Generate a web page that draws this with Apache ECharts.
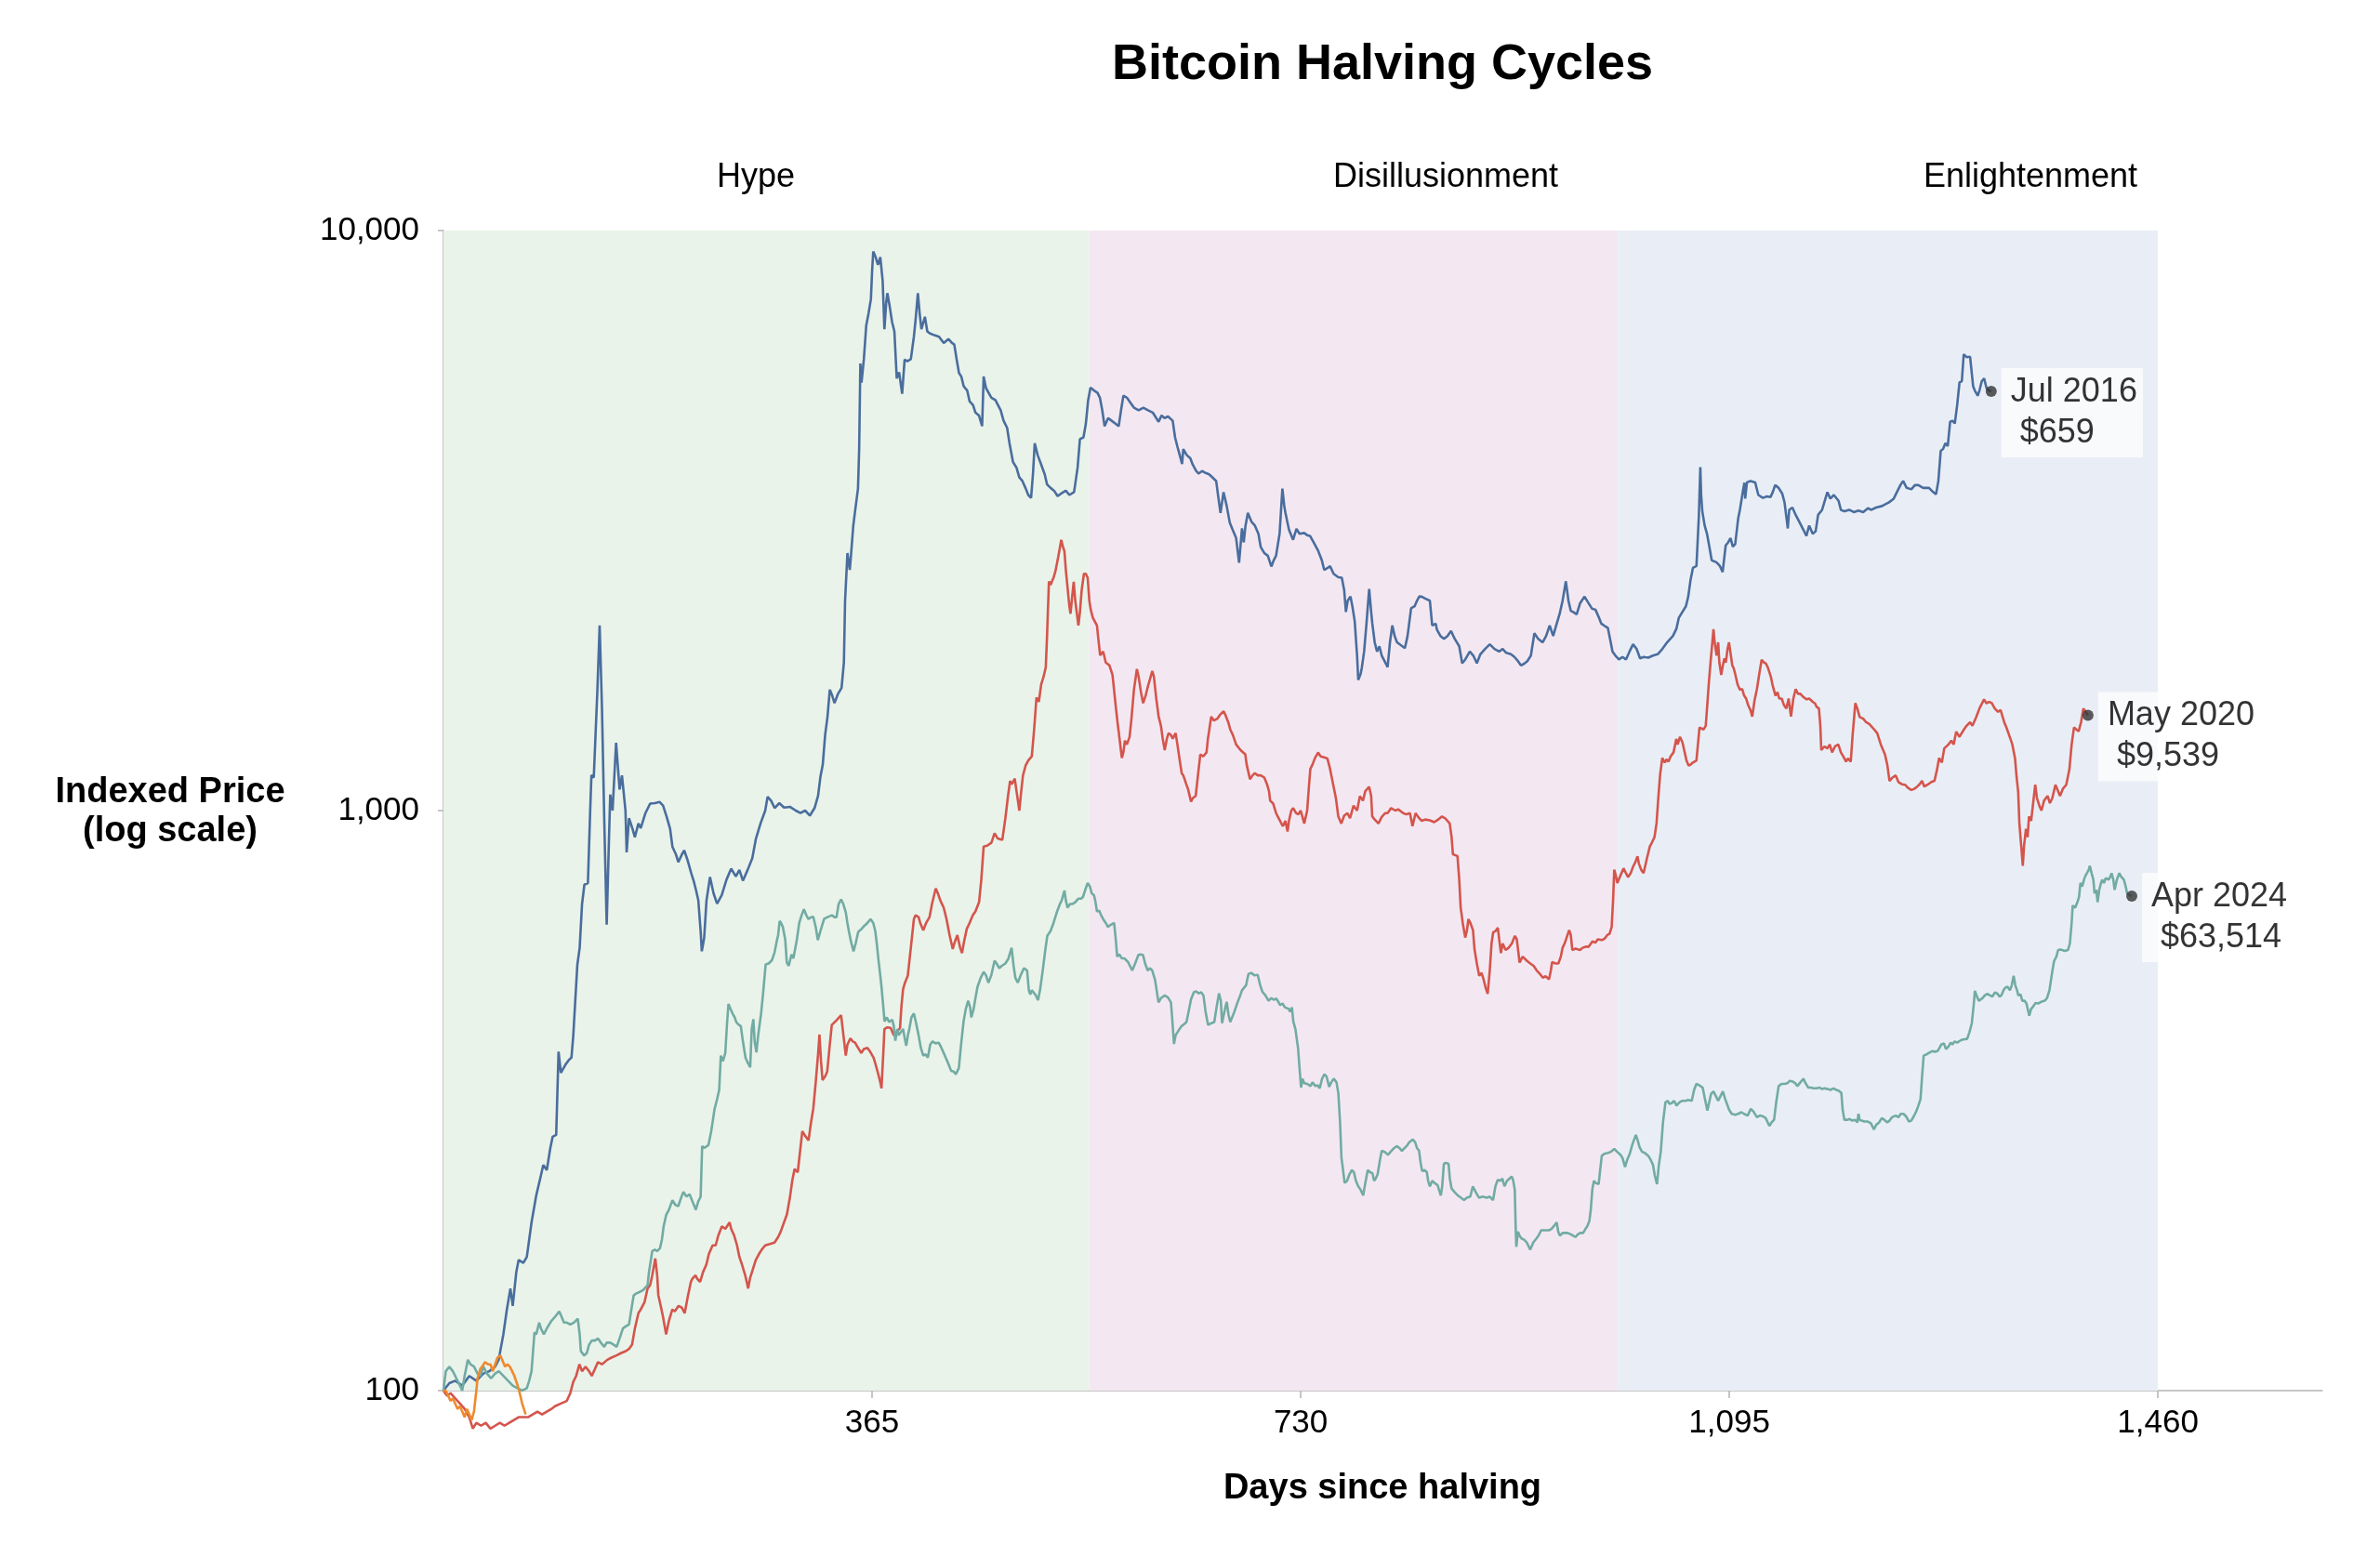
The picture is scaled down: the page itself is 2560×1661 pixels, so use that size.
<!DOCTYPE html>
<html>
<head>
<meta charset="utf-8">
<script src="https://cdn.jsdelivr.net/npm/echarts@6.0.0/dist/echarts.min.js"></script>
<style>
html,body{margin:0;padding:0;background:#ffffff;}
#chart{width:2560px;height:1661px;}
</style>
</head>
<body>
<div id="chart"></div>
<script>
// ---------------- DATA (day since halving, indexed price = 100 at halving) ----------------
const cycle2012 = [[0,100],[5,103],[10,104],[16,102],[22,106],[28,104],[34,107],[39,108],[44,110],[47,113],[51,125],[54,138],[57,150],[59,140],[62,160],[64,168],[68,166],[71,170],[75,195],[79,217],[83,235],[85,245],[88,240],[91,262],[93,274],[96,276],[98,384],[100,353],[104,365],[107,372],[109,375],[110.5,408],[113,500],[114,542],[116,580],[118,690],[120,745],[123,750],[125,1007],[126,1151],[128,1140],[131,1600],[133,2085],[135,1500],[137,950],[139,636],[141,900],[142,1066],[144,1000],[147,1309],[150,1087],[152,1150],[155,1000],[156,847],[158,970],[161,930],[163,900],[166,950],[168,933],[172,990],[176,1028],[180,1030],[184,1035],[187,1020],[190,977],[193,930],[195,866],[198,840],[200,815],[203,840],[205,854],[208,820],[211,780],[213,757],[215,730],[217,701],[219,620],[220,572],[222,603],[224,700],[227,768],[230,720],[233,691],[237,715],[241,760],[245,794],[249,770],[252,790],[255,757],[259,790],[263,828],[266,893],[270,950],[274,1000],[276,1056],[279,1040],[282,1010],[286,1030],[290,1012],[295,1015],[300,1000],[304,990],[308,1000],[312,980],[316,1010],[319,1060],[321,1143],[323,1200],[325,1349],[327,1450],[329,1616],[331,1580],[333,1532],[336,1590],[339,1627],[341,1800],[342,2300],[344,2779],[346,2600],[347,2750],[349,3100],[350.5,3280],[353,3590],[354,4200],[355,5900],[356,5470],[358,6000],[360,6855],[362,7200],[364,7620],[365,8500],[366,9200],[368,9000],[370,8730],[372,9000],[374,8200],[375.5,6760],[377,7500],[378,7800],[380,7400],[382,6960],[384,6700],[386,5560],[388,5700],[390.6,5230],[392.7,5990],[395,5950],[398,6000],[400.6,6560],[402,7000],[404,7800],[405.5,7200],[407,6760],[410,7100],[412,6700],[414,6650],[418,6600],[422,6560],[426,6400],[430,6500],[433,6400],[435,6360],[437,6000],[439,5680],[441,5600],[443,5390],[446,5300],[448,5080],[451,5000],[453,4855],[456,4800],[458.7,4600],[460,5600],[462,5350],[466.6,5150],[470,5100],[474.5,4900],[477,4700],[480,4570],[482,4300],[485,3990],[488,3900],[490.3,3755],[493,3700],[495.6,3600],[498,3500],[500.4,3460],[502,3800],[503.5,4300],[506,4100],[509,3950],[512,3800],[514,3650],[517,3600],[520,3560],[523,3485],[526,3520],[530,3560],[533,3500],[537,3540],[540,3900],[542,4370],[545,4400],[547,4640],[549,5100],[551,5360],[554,5300],[557,5250],[559,5150],[561,4900],[563,4600],[566,4750],[569,4700],[572,4650],[575,4600],[577,4900],[579,5190],[582,5150],[585,5050],[588,4950],[592,4900],[596,4950],[600,4900],[604,4855],[607,4750],[609,4680],[611.5,4800],[614,4750],[617,4780],[621,4700],[623,4400],[625,4240],[627,4100],[629,3960],[630,4200],[633,4100],[636,4050],[638,3950],[641,3850],[643,3810],[646,3850],[649,3820],[652,3800],[655,3750],[658,3700],[660,3450],[661.7,3260],[663,3400],[664.3,3540],[667,3350],[669.6,3135],[672,3050],[675,2950],[677.5,2675],[680,3065],[681.5,2900],[683,3100],[685,3260],[688,3150],[691,3100],[694,3000],[696,2845],[699,2780],[702,2750],[705,2635],[707,2700],[709,2750],[712,3000],[714.4,3590],[716,3350],[717,3260],[720,3050],[723.5,2930],[726.4,3060],[729,3000],[733,3010],[736,2980],[738,2975],[741,2900],[745,2800],[748,2700],[750,2600],[753,2620],[755,2640],[758,2560],[762,2525],[765,2520],[767,2400],[768.5,2200],[770,2300],[772.4,2338],[774,2250],[776,2120],[778,1850],[779,1680],[781,1720],[782,1760],[784,1880],[786,2100],[788.3,2410],[790,2200],[791,2100],[793,1950],[795,1880],[797,1920],[799,1850],[802,1800],[804,1768],[806,1950],[808,2085],[810,2000],[812,1950],[815,1930],[818.7,1906],[821,2000],[824,2232],[827,2250],[829,2300],[831,2340],[833,2338],[836,2320],[840,2300],[842,2085],[845,2100],[846,2050],[849,2000],[852,1977],[855,2000],[858,2040],[861,1980],[865,1920],[867.5,1795],[870,1820],[874,1880],[877,1850],[880,1795],[883,1860],[887,1900],[891,1935],[895,1900],[899,1880],[902,1900],[905,1870],[909,1860],[912,1840],[915,1810],[917.5,1780],[920,1790],[923,1810],[926,1850],[929,2022],[932,1980],[936,1950],[939,2000],[942,2085],[945,2000],[948,2100],[950.5,2183],[953,2300],[955.8,2485],[958,2300],[960,2210],[962,2200],[965,2180],[968,2280],[971.7,2338],[975,2280],[978,2230],[981,2220],[984,2150],[986,2100],[989,2080],[991.5,2066],[994,1950],[995.5,1880],[998,1850],[1001,1822],[1004,1840],[1007,1822],[1010,1880],[1013,1935],[1016,1900],[1019,1830],[1022,1840],[1026,1835],[1030,1850],[1034,1860],[1038,1900],[1042,1950],[1045,1980],[1047,2000],[1050,2060],[1052,2150],[1055,2200],[1058,2250],[1060,2338],[1062,2500],[1064,2620],[1067,2640],[1069,3200],[1070.3,3910],[1071,3500],[1072,3280],[1074,3100],[1076,3000],[1078,2850],[1080,2700],[1084,2680],[1087,2640],[1089.3,2577],[1091.9,2865],[1094,2900],[1096,2950],[1098,2850],[1100,2880],[1102.5,3185],[1104,3300],[1106.4,3540],[1107.8,3675],[1108.5,3450],[1110,3680],[1113,3700],[1117,3680],[1119.7,3500],[1121,3480],[1123.6,3460],[1127,3480],[1130,3470],[1132,3540],[1134,3640],[1137,3600],[1140,3520],[1142,3400],[1144.8,3065],[1146,3300],[1148.7,3330],[1151,3250],[1155,3135],[1158,3050],[1160.6,2975],[1163,3100],[1166,3000],[1168.5,3030],[1170.6,3234],[1174,3300],[1178.5,3540],[1181,3450],[1184,3500],[1188,3420],[1190,3300],[1193,3280],[1197,3300],[1201,3270],[1205,3290],[1209,3270],[1213,3320],[1216,3300],[1220,3330],[1225,3350],[1231,3400],[1235,3450],[1238,3550],[1241,3650],[1243,3700],[1246,3600],[1250,3580],[1253,3640],[1256,3640],[1260,3600],[1265,3600],[1268,3550],[1271,3510],[1273,3700],[1275,4170],[1277,4200],[1279,4300],[1281,4250],[1283,4680],[1285,4700],[1287,4650],[1289,5000],[1291,5470],[1293,5500],[1294.6,6120],[1297,6050],[1300,6060],[1302.6,5390],[1304,5300],[1306.5,5190],[1308,5300],[1310,5500],[1312,5560],[1314,5350],[1316,5300],[1318,5280]];

const cycle2016 = [[0,100],[3,98],[6,99],[10,97],[14,95],[18,93],[22,90],[25,86],[28,88],[32,87],[36,88],[40,86],[44,87],[48,88],[52,87],[56,88],[60,89],[64,90],[68,90],[72,90],[76,91],[80,92],[84,91],[88,92],[92,93],[95,94],[100,95],[105,96],[108,99],[110.5,103.5],[113,106],[115.8,111],[118,108],[121,110],[124,108],[126.3,106],[129,109],[131.6,112],[135,111],[139.5,113],[143,114],[147.4,115],[151,116],[155.3,117],[158,118],[160.6,120],[163,128],[166,136],[168,138],[171.2,142],[173.8,150],[176,152],[177.8,158],[180.4,169],[182,158],[183,146],[185,140],[187,134],[189.6,125],[192,132],[194.9,138],[197,137],[200.2,140],[203,139],[205.4,136],[208,145],[210.7,154],[212,156],[214.7,158],[216,156],[218.6,154],[221,160],[223.9,165],[226,172],[229.2,178],[231.8,178],[234,185],[237.1,192],[240,190],[243.7,195],[245,190],[247.6,185],[250,178],[252,170],[254.2,165],[257,158],[259.5,150],[261,156],[263.5,162],[266,168],[268.7,172],[271,175],[274,178],[278,179],[281.9,180],[285,184],[287.2,188],[290,195],[292.4,201],[295,215],[297,230],[299,241],[301.7,238],[304,262],[305.6,280],[308,275],[310.9,270],[313,290],[314.9,306],[317,340],[319,380],[320.2,411],[321.5,370],[322.8,343],[325,348],[326.8,355],[329,395],[330.7,427],[332,430],[334.7,435],[337,440],[338.6,444],[340,420],[342.6,378],[344,395],[346.5,405],[348.5,400],[350.5,398],[353,390],[355.8,382],[358,388],[361,390],[363,385],[366.3,375],[368,365],[370.3,351],[372,340],[373,332],[374.5,380],[375.5,420],[378,423],[380.8,422],[383.5,410],[386,415],[388.8,422],[390,460],[391.4,492],[393,505],[395.4,519],[398,580],[400.6,650],[402,660],[404.6,655],[406,640],[408.6,622],[411,640],[413.9,655],[416,690],[419.2,734],[421,720],[423.1,700],[426,680],[428.4,650],[431,610],[433.7,577],[435,590],[437.6,610],[440,580],[441.6,568],[443,590],[445.6,625],[448,640],[450.8,660],[453,670],[456.1,695],[458,760],[460,867],[463,870],[466.6,880],[469.3,914],[472,895],[475.9,890],[478.5,970],[480.5,1050],[482.5,1125],[484,1110],[486.5,1135],[488,1080],[490.4,1000],[492,1080],[493.5,1150],[495.7,1195],[498,1220],[501,1240],[503,1380],[505,1567],[507,1540],[509,1650],[511,1700],[512.9,1766],[514,2000],[515.6,2484],[517,2450],[519.5,2520],[521,2580],[523.5,2735],[526.1,2930],[527.5,2850],[528.8,2800],[530,2600],[531.4,2430],[533,2250],[534,2185],[535.5,2350],[536.7,2480],[538,2300],[540.7,2085],[542,2200],[543.5,2400],[545.4,2560],[547,2560],[548.6,2520],[550,2300],[551.2,2220],[553,2150],[556.5,2085],[558,1950],[559.2,1852],[561.8,1880],[564,1800],[567.1,1780],[569.7,1714],[571,1620],[572.4,1520],[574,1420],[575,1368],[576.5,1290],[577.7,1232],[579,1260],[580.3,1320],[582,1300],[584.3,1340],[586,1450],[588,1616],[590.5,1754],[592,1700],[594,1600],[595.8,1532],[598,1580],[600,1640],[603.6,1740],[605,1700],[607,1560],[609,1452],[611,1400],[612.5,1330],[614.2,1271],[616,1330],[617.5,1360],[619.5,1350],[621,1330],[623.5,1360],[625,1300],[627,1220],[628.7,1159],[630,1150],[632.7,1108],[634,1090],[636.6,1036],[638,1050],[640.6,1060],[642.5,1150],[644.5,1250],[647,1240],[649.8,1260],[651,1330],[653.8,1452],[656,1430],[659,1440],[661,1460],[664.3,1483],[666,1460],[668.3,1420],[670,1380],[672.2,1350],[675,1300],[678.8,1271],[682.8,1250],[684,1200],[686.8,1133],[689,1150],[691,1160],[693.4,1150],[696,1150],[699,1140],[701.3,1110],[703,1080],[704,1040],[706.6,1028],[709,990],[711.8,965],[714.8,940],[717,960],[718.8,920],[720,960],[722,1000],[723.6,1010],[726,990],[728,985],[730,1000],[733,950],[735.5,1000],[737,1100],[738.2,1180],[740,1200],[742,1230],[744.8,1259],[747,1240],[750,1235],[752.7,1230],[755,1180],[758,1100],[760,1050],[762,977],[764.6,950],[767,980],[769.8,990],[772,970],[775,1020],[778,1000],[780.4,1059],[783,1040],[785,1080],[788.3,1099],[790,1060],[790.9,977],[793,965],[796.2,950],[799,975],[802,990],[804,990],[807,1010],[810.6,1000],[813,1005],[817.3,990],[820,985],[823,990],[825.2,940],[827.8,990],[830,975],[833.1,960],[836,965],[840,962],[843.7,955],[847,965],[850.3,977],[853,970],[856.9,950],[858.5,900],[859.6,841],[861,838],[863.5,835],[865,760],[866.2,681],[868,640],[870.1,604],[871.5,620],[872.8,650],[874.5,640],[876.7,622],[878,577],[880,545],[882,519],[884,525],[885.9,510],[887.5,495],[889.2,483],[891,530],[892.5,590],[893.9,617],[896,620],[897.9,628],[899,600],[900.5,568],[902,590],[904.5,575],[907,580],[909.8,590],[912.4,608],[914,600],[916.4,547],[919,560],[921,555],[923,550],[925.5,545],[928.3,540],[931,530],[934,522],[936.2,515],[938.5,518],[941.5,512],[943,530],[944.1,548],[947,545],[949.4,545],[951.5,560],[953,580],[954.7,590],[956,600],[958.6,622],[960,610],[961.3,575],[964,578],[967.9,575],[970,580],[973.2,583],[975,582],[978.4,595],[981,592],[983,600],[986.4,598],[989,602],[991,610],[993,613],[994.8,630],[996,700],[997,791],[998.5,770],[999.6,750],[1002,770],[1004.9,795],[1007,780],[1008.8,768],[1011,780],[1013,800],[1015,815],[1016.8,834],[1018,810],[1020,790],[1022,780],[1023.4,785],[1025,830],[1027.3,867],[1029,880],[1031.3,900],[1033,950],[1034.5,1050],[1036,1150],[1037.9,1232],[1040,1210],[1041.5,1225],[1043.2,1215],[1045,1240],[1047.5,1260],[1049.8,1329],[1051,1300],[1053,1340],[1055.1,1310],[1057,1260],[1058.5,1220],[1060.4,1195],[1062,1200],[1064,1210],[1067,1220],[1069.6,1391],[1071,1400],[1073,1380],[1074.9,1400],[1076,1500],[1077.6,1665],[1079,1800],[1080.5,1950],[1081.5,2055],[1082.5,1950],[1084.2,1850],[1085.5,1950],[1086.5,1800],[1088.1,1714],[1089.5,1780],[1090.8,1830],[1092,1800],[1093.5,1900],[1094.7,1950],[1096,1870],[1097.5,1780],[1098.7,1760],[1100,1720],[1102,1650],[1104,1616],[1106,1620],[1107.5,1580],[1109.3,1560],[1111,1520],[1113,1490],[1114.5,1452],[1116.5,1550],[1118.5,1620],[1120.5,1720],[1122.5,1820],[1124.5,1800],[1126.4,1790],[1128,1760],[1130.4,1700],[1132,1640],[1134.3,1578],[1136,1600],[1137.5,1560],[1139.6,1560],[1141.5,1520],[1143.6,1500],[1145.5,1560],[1147.5,1452],[1149.5,1560],[1151.5,1620],[1153.5,1590],[1155.5,1590],[1158,1570],[1160.8,1555],[1163,1560],[1166,1540],[1168,1530],[1169.3,1510],[1171.3,1500],[1172.5,1400],[1173.3,1271],[1176,1290],[1178.5,1280],[1180.5,1300],[1182.5,1260],[1185,1290],[1187.8,1300],[1190,1260],[1192,1240],[1194.4,1214],[1196,1230],[1198.4,1214],[1200,1350],[1202.3,1532],[1204,1500],[1206,1450],[1209,1440],[1211.5,1420],[1214.2,1410],[1217,1390],[1220.9,1360],[1224,1300],[1227.5,1250],[1229.5,1200],[1231.4,1125],[1234,1140],[1236.7,1150],[1239,1120],[1242,1110],[1244.6,1108],[1247,1095],[1250,1085],[1252.5,1090],[1255,1100],[1257,1110],[1259.1,1125],[1261,1100],[1264.4,1110],[1267,1120],[1269.7,1125],[1272,1180],[1273.6,1232],[1276,1210],[1278,1280],[1281.6,1300],[1284,1320],[1286,1300],[1288.2,1368],[1291,1340],[1294.8,1380],[1297,1400],[1300,1420],[1302,1400],[1305.3,1450],[1308,1500],[1311.9,1555],[1314,1530],[1316,1540],[1318.5,1532],[1321,1500],[1323.8,1480],[1326,1490],[1329.1,1420],[1331,1390],[1334.4,1329],[1336,1300],[1338.3,1230],[1339.5,1150],[1341,1076],[1342,950],[1343.6,867],[1344.9,803],[1346,870],[1347.6,930],[1349,900],[1350.2,977],[1352,960],[1355.5,1108],[1357,1050],[1359,1020],[1360.8,1000],[1363,1040],[1366,1060],[1368,1030],[1370,1050],[1372.7,1108],[1375,1080],[1376.6,1060],[1379,1090],[1381.9,1108],[1384.6,1178],[1386.5,1300],[1388.5,1391],[1390.5,1380],[1392.5,1370],[1394.5,1420],[1396.5,1500],[1398.5,1480],[1400.4,1460]];

const cycle2020 = [[0,100],[1,104],[2,108],[5,110],[8,108],[10,106],[13,103],[16,100],[18,106],[20.8,113],[23,111],[26,110],[29,107],[31.4,106],[34,110],[37,107],[40.6,105],[44,107],[47.2,108],[51,106],[55,104],[59,102],[63,101],[67,100],[71,101],[73,104],[75,108],[77.5,126],[79,125],[81.5,131],[83,128],[85.5,125],[88,128],[92,132],[95,134],[98.6,137],[100,135],[102.6,131],[105,131],[108,130],[111,131],[114.4,133],[116,125],[117,117],[119.7,115],[122,116],[124,120],[126.3,122],[129,122],[131.6,123],[134,121],[136.9,119],[139,121],[142,121],[145,120],[147.5,119],[150,123],[152.8,128],[155,129],[158,130],[160,138],[162,146],[164,147],[167.2,148],[170,149],[173.8,152],[175,160],[177.8,174],[180,175],[182,174],[184.4,176],[186,182],[187.5,192],[189.7,201],[192,205],[195,213],[197.5,209],[200,208],[202,214],[204.3,220],[207,216],[209.6,218],[212,212],[214.9,205],[217,212],[219,216],[220.3,264],[222,262],[225.6,265],[228,280],[230.9,306],[233,318],[234.8,330],[236.2,378],[238,370],[240,382],[241.5,430],[242.7,464],[244.5,455],[246.6,445],[248,440],[249.3,432],[251,428],[253.2,425],[255,400],[257.2,375],[259,368],[261.2,361],[262.5,420],[263.9,437],[265,400],[266.5,383],[268,410],[270.5,447],[272,480],[274.4,543],[277,545],[279.7,552],[282,570],[283.7,594],[285,610],[286.3,645],[287.5,640],[289,630],[291,600],[292.4,547],[294,540],[296.4,565],[298,556],[299,552],[301,600],[303,641],[305,660],[306.9,676],[309,660],[310.9,650],[313,655],[314.9,656],[317,630],[318.8,598],[321,620],[324.1,650],[327,655],[330.7,660],[333,655],[334.7,655],[336.5,690],[338.6,703],[340.5,690],[342.6,668],[344,640],[345.2,620],[347,595],[349.2,572],[351,590],[353.2,618],[356,625],[358.4,633],[361,640],[363.7,650],[366,640],[367.7,620],[369,590],[370.3,556],[371.5,530],[373,497],[374.5,460],[375.6,433],[377.5,440],[379.5,432],[382.2,436],[383.5,425],[384.8,401],[386.5,420],[387.5,410],[389.5,415],[391.4,420],[392.8,405],[394.1,393],[395.5,410],[396.7,420],[398.5,440],[400.6,447],[402.5,430],[404.6,410],[406.5,390],[408.6,378],[410.5,380],[412.5,375],[414.5,395],[416.5,400],[419,397],[421.7,398],[424,390],[427,378],[429.5,368],[432.3,356],[434.5,355],[436.3,351],[438.9,360],[440.5,390],[442.9,433],[444.8,455],[446.8,470],[448.5,458],[449.5,440],[451.5,455],[453,475],[454.8,497],[457.5,515],[460,527],[462,520],[464,505],[466.5,520],[469.3,551],[471,545],[473.3,535],[475.5,540],[478.5,545],[481,555],[483.8,580],[485.5,540],[487,515],[489.1,505],[491.5,520],[494.3,535],[495.5,534],[497,530],[498.5,490],[499.7,482],[501,490],[502.3,490],[504.5,480],[506.3,471],[508,490],[510.3,530],[512.5,575],[514.2,608],[517,620],[519.5,640],[522,665],[524.8,689],[526.5,700],[528.8,728],[530,700],[531.4,680],[533.5,690],[535.4,690],[538,695],[540.7,705],[543,705],[544.6,710],[546.5,730],[548.6,750],[550.5,740],[552,720],[553.9,715],[555,700],[556.5,670],[558.5,672],[560,660],[561.8,650],[564,640],[565.8,630],[568,635],[571.1,640],[572.5,600],[573.7,560],[575.5,565],[577.7,556],[580,556],[583,548],[586.5,530],[589,545],[591.8,564],[593.5,565],[595.7,564],[597.5,545],[599.7,530],[601.5,535],[603.6,530],[606,510],[608.9,467],[611,475],[614.2,480],[617,476],[619.5,467],[620.5,440],[622.1,396],[623.5,410],[626.1,418],[628.5,425],[630.5,428],[632.7,432],[634.5,450],[636.6,473],[639,486],[641,488],[643.2,484],[645.3,486],[647.2,480],[649,450],[651.1,427],[652.5,425],[654,430],[656.4,432],[658.5,460],[660.4,484],[662,470],[663,430],[664.3,430],[665.5,455],[667,468],[668.5,445],[670,432],[671,430],[673.5,450],[676.2,467],[678.5,480],[680,490],[681.5,488],[683.5,500],[685.5,523],[688,525],[690.5,520],[693.4,521],[695.5,500],[697.4,487],[700,480],[702.6,470],[705,475],[707,472],[709.2,474],[711,468],[712.5,462],[714.5,465],[716.5,458],[719.8,455],[721,450],[722.5,458],[723.7,433],[725.5,420],[727.7,390],[729,360],[730.3,333],[731.5,345],[733,339],[735.5,338],[738.3,335],[740,340],[742.5,335],[744.5,336],[746.2,332],[748.2,345],[750.2,351],[752,348],[754.2,334],[756,340],[758.1,345],[760.5,340],[762.1,325],[763.5,290],[764.7,252],[765.5,245],[767.4,228],[769.5,230],[771.5,236],[773.5,240],[775.3,238],[777,230],[779,225],[781,222],[783.2,217],[785,228],[787.1,240],[789,238],[791.1,237],[792.5,230],[793.8,232],[795.5,236],[797.5,250],[799,259],[801.5,258],[804.3,255],[806.5,258],[809.6,262],[812,264],[814,262],[816.2,259],[818.5,262],[820.2,264],[822.5,268],[825.5,271],[827.5,268],[829,262],[830.8,259],[832,248],[833.4,239],[835.5,240],[837.4,238],[838.5,230],[840,225],[842,230],[844,228],[846.6,226],[849.3,217],[850.5,225],[851.9,246],[853.5,247],[855.9,246],[857,232],[858.5,223],[861,220],[863.8,217],[866.5,215],[869.1,213],[871.5,215],[874.4,216],[876.6,225],[879,220],[881.9,215],[885,216],[888.5,215],[891,216],[893.8,213],[895.8,225],[897.8,231],[900,230],[901.7,232],[903.5,225],[905.7,230],[907.7,232],[909.7,234],[911,230],[912.3,222],[913.1,190],[913.6,177],[915,188],[916.3,185],[918,183],[920.2,182],[922.5,180],[925.5,175],[928,180],[930.8,183],[932.5,185],[934.8,189],[937,189],[939,189],[941.4,189],[943.5,190],[945.5,192],[948,195],[949.3,188],[950.7,185],[953,187],[955.5,187],[957.3,187],[960,186],[962,185],[963.9,184],[966,186],[968,187],[970.5,187],[972.5,190],[974,192],[975.8,196],[977,205],[978.4,223],[979.7,230],[981.1,228],[983.7,227],[985,240],[986.4,254],[988.5,256],[991.7,257],[994,258],[997,261],[999.5,258],[1002.2,255],[1004,252],[1006.2,243],[1008,250],[1010.2,256],[1012.5,266],[1015.4,276],[1017,270],[1018.5,263],[1020.7,258],[1023,257],[1026,254],[1028,250],[1030,245],[1031.5,235],[1033.4,227],[1035,245],[1036.6,258],[1038.5,290],[1040.6,314],[1042.5,316],[1044,312],[1045.9,313],[1048,316],[1050,310],[1052.5,314],[1055,316],[1057.8,316],[1060,317],[1061.5,318],[1063,316],[1065,330],[1067,338],[1069.5,336],[1072.3,333],[1074,320],[1076.3,304],[1078,315],[1079.5,325],[1081.5,328],[1083.5,322],[1085.5,316],[1087.5,322],[1089.5,328],[1091.5,318],[1094.8,305],[1097,300],[1100,299],[1102.5,300],[1105.3,302],[1107.5,300],[1110.6,298],[1113.3,306],[1115.5,303],[1118.5,296],[1121,298],[1123.8,297],[1126,295],[1129.1,286],[1131,290],[1133.1,293],[1135,315],[1137,335],[1139.5,338],[1142.3,338],[1144.5,339],[1146.5,342],[1149,341],[1151,339],[1153,335],[1155.5,340],[1158.2,345],[1159.5,340],[1162.2,333],[1164.5,333],[1166.5,332],[1169,332],[1172,333],[1174,331],[1176,332],[1179,331],[1181,330],[1183.8,332],[1186,330],[1188,329],[1190.4,326],[1191.5,305],[1193,293],[1195.5,293],[1197.5,294],[1199.7,292],[1202,293],[1204,290],[1205,300],[1206,293],[1207.6,292],[1210,291],[1212.9,291],[1215.5,289],[1218.2,282],[1220,287],[1222.5,290],[1224.8,295],[1227,293],[1229.5,290],[1231.4,292],[1233.5,296],[1236.7,298],[1239,296],[1241,300],[1243.3,300],[1245.5,297],[1248,291],[1249.9,292],[1252,297],[1253.9,302],[1256,310],[1257.8,318],[1259,345],[1260.5,378],[1263,380],[1265.8,383],[1268,385],[1270,384],[1272.4,385],[1274,390],[1275.5,395],[1277.7,397],[1279.5,388],[1281.6,392],[1283.5,398],[1285,395],[1286.9,400],[1289,398],[1292.2,402],[1294,403],[1295.5,405],[1297.5,404],[1299.5,415],[1301.5,430],[1303,460],[1304.1,489],[1305.5,480],[1307.5,470],[1309.4,473],[1311,476],[1312.5,480],[1314.7,483],[1317,480],[1319,478],[1321.3,486],[1323.5,483],[1325,478],[1326.6,480],[1328.5,490],[1330,495],[1331.9,497],[1334,490],[1335.5,500],[1337.1,519],[1338.5,500],[1340,490],[1341.1,480],[1343,482],[1344.5,470],[1346.4,470],[1348,465],[1350.4,443],[1352,455],[1354,460],[1355.7,466],[1358,465],[1360.5,468],[1363.6,470],[1365.5,475],[1367.6,490],[1369.5,520],[1371.5,550],[1373.5,560],[1375,575],[1376.8,576],[1378.5,575],[1380.5,573],[1383.4,575],[1385,590],[1386.5,640],[1387.4,686],[1389.5,680],[1391.4,695],[1392.8,710],[1394,750],[1395.5,740],[1397,760],[1398,770],[1399.5,780],[1401,790],[1402,803],[1403.5,780],[1405,760],[1406,720],[1407.5,730],[1408.6,695],[1410,730],[1411.5,750],[1412.5,760],[1414,750],[1415.5,765],[1416.5,770],[1418,760],[1419.5,770],[1420.5,780],[1422,760],[1423.1,730],[1425,760],[1427.1,780],[1428.5,770],[1429.7,770],[1431,760],[1432.5,740],[1433.7,720],[1435.5,716],[1437.7,712]];

const cycle2024 = [[0,100],[2,100],[4,98],[6,96],[8,97],[10,95],[12,93],[14,94],[16,92],[18,90],[20,93],[22,91],[24,89],[26,92],[28,100],[29,105],[31.4,109],[33,110],[35.4,112],[38,111],[40,111],[42,108],[44,111],[46,114],[48.5,115],[50,113],[52.5,110],[54.5,111],[56.5,110],[58.5,108],[60.4,106],[62.5,103],[64.4,100],[66,97],[67,95],[68.5,93],[70,91]];

const seriesNames = ['2012 halving', '2016 halving', '2020 halving', '2024 halving'];
const endLabels = ['Jul 2016', 'May 2020', 'Apr 2024'];
const endPrices = ['$659', '$9,539', '$63,514'];
const phaseNames = ['Hype', 'Disillusionment', 'Enlightenment'];
const phaseBounds = [0, 550, 1000, 1460];
const xTickValues = [365, 730, 1095, 1460];

// ---------------- STYLE ----------------
const FONT = '"Liberation Sans", Arial, Helvetica, sans-serif';
const lineColors = ['#4a6d9d', '#d4554c', '#72aba3', '#ee8a2f'];
const phaseColors = ['#e9f3ea', '#f3e8f2', '#e9eef6'];
const axisGray = '#b4b4b4';

function fmt(v) {
  return String(v).replace(/\B(?=(\d{3})+(?!\d))/g, ',');
}

const chart = echarts.init(document.getElementById('chart'), null, {renderer: 'canvas', width: 2560, height: 1661});

const cycles = [cycle2012, cycle2016, cycle2020, cycle2024];

const lineSeries = cycles.map((data, i) => ({
  name: seriesNames[i],
  type: 'line',
  data: data,
  showSymbol: false,
  symbol: 'none',
  smooth: false,
  silent: true,
  clip: false,
  z: 3 + i,
  lineStyle: {color: lineColors[i], width: 2.6},
  itemStyle: {color: lineColors[i]}
}));

const areaSeries = {
  name: 'phases',
  type: 'line',
  data: [],
  silent: true,
  z: 1,
  markArea: {
    silent: true,
    label: {show: false},
    data: phaseNames.map((p, i) => [
      {xAxis: phaseBounds[i], itemStyle: {color: phaseColors[i]}},
      {xAxis: phaseBounds[i + 1]}
    ])
  }
};

const endSeries = {
  name: 'ends',
  type: 'scatter',
  z: 10,
  silent: true,
  clip: false,
  symbol: 'circle',
  symbolSize: 12,
  itemStyle: {color: '#333333'},
  data: endLabels.map((lab, i) => {
    const arr = cycles[i];
    const last = arr[arr.length - 1];
    return {
      value: last,
      label: {
        show: true,
        position: 'right',
        distance: 5,
        offset: [0, 23],
        formatter: lab + '\n ' + endPrices[i],
        fontFamily: FONT,
        fontSize: 36,
        lineHeight: 44,
        color: '#000000',
        backgroundColor: 'rgba(255,255,255,0.88)',
        padding: [4, 6, 4, 10],
        align: 'left'
      }
    };
  })
};

const option = {
  animation: false,
  backgroundColor: '#ffffff',
  textStyle: {fontFamily: FONT},
  grid: {left: 477, right: 62, top: 248, bottom: 165, containLabel: false},
  xAxis: {
    type: 'value',
    min: 0,
    max: 1600,
    interval: 365,
    axisLine: {show: true, lineStyle: {color: axisGray, width: 1.5}},
    axisTick: {show: true, length: 8, customValues: xTickValues, lineStyle: {color: axisGray, width: 1.5}},
    axisLabel: {
      show: true,
      customValues: xTickValues,
      margin: 18,
      fontSize: 35,
      color: '#000000',
      fontFamily: FONT,
      formatter: v => (xTickValues.indexOf(v) >= 0 ? fmt(v) : '')
    },
    splitLine: {show: false}
  },
  yAxis: {
    type: 'log',
    logBase: 10,
    min: 100,
    max: 10000,
    axisLine: {show: true, lineStyle: {color: axisGray, width: 1.5}},
    axisTick: {show: true, length: 6, lineStyle: {color: axisGray, width: 1.5}},
    minorTick: {show: false},
    axisLabel: {
      margin: 26,
      fontSize: 35,
      color: '#000000',
      fontFamily: FONT,
      formatter: v => fmt(Math.round(v))
    },
    splitLine: {show: false}
  },
  graphic: [
    {type: 'text', x: 1487, y: 70, silent: true,
      style: {text: 'Bitcoin Halving Cycles', font: 'bold 54px ' + FONT, fill: '#000000',
        textAlign: 'center', textVerticalAlign: 'middle', align: 'center', verticalAlign: 'middle'}},
    {type: 'text', x: 813, y: 191, silent: true,
      style: {text: phaseNames[0], font: '36px ' + FONT, fill: '#000000',
        textAlign: 'center', textVerticalAlign: 'middle', align: 'center', verticalAlign: 'middle'}},
    {type: 'text', x: 1555, y: 191, silent: true,
      style: {text: phaseNames[1], font: '36px ' + FONT, fill: '#000000',
        textAlign: 'center', textVerticalAlign: 'middle', align: 'center', verticalAlign: 'middle'}},
    {type: 'text', x: 2184, y: 191, silent: true,
      style: {text: phaseNames[2], font: '36px ' + FONT, fill: '#000000',
        textAlign: 'center', textVerticalAlign: 'middle', align: 'center', verticalAlign: 'middle'}},
    {type: 'text', x: 183, y: 874, silent: true,
      style: {text: 'Indexed Price\n(log scale)', font: 'bold 38px ' + FONT, fill: '#000000', lineHeight: 42,
        textAlign: 'center', textVerticalAlign: 'middle', align: 'center', verticalAlign: 'middle'}},
    {type: 'text', x: 1487, y: 1602, silent: true,
      style: {text: 'Days since halving', font: 'bold 38px ' + FONT, fill: '#000000',
        textAlign: 'center', textVerticalAlign: 'middle', align: 'center', verticalAlign: 'middle'}}
  ],
  series: [areaSeries].concat(lineSeries).concat([endSeries])
};

chart.setOption(option);
</script>
</body>
</html>
